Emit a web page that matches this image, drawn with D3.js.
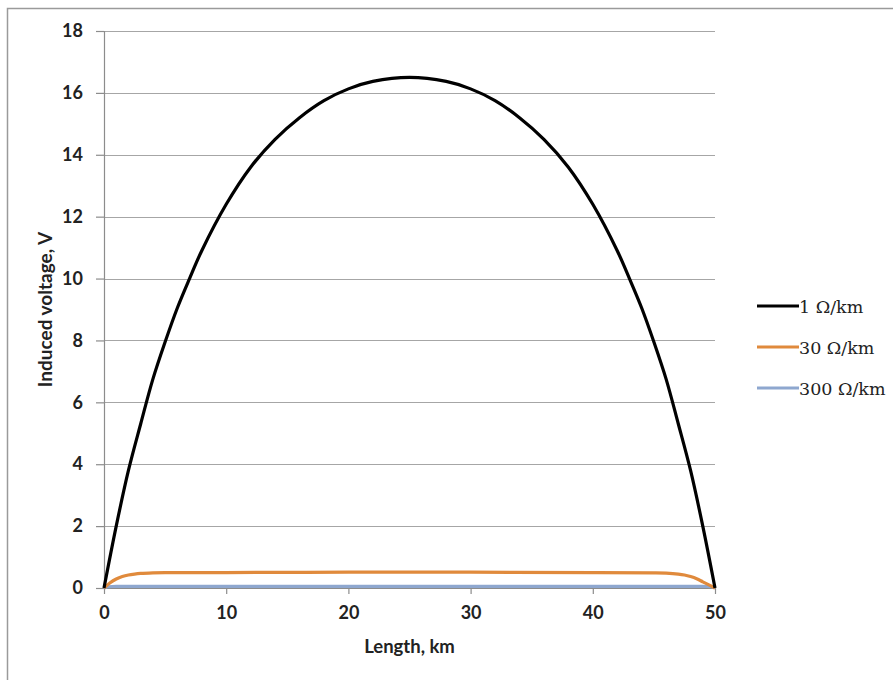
<!DOCTYPE html>
<html>
<head>
<meta charset="utf-8">
<script src="https://cdn.jsdelivr.net/npm/d3@7"></script>
<style>
  body { margin: 0; background: #fff; }
  svg { display: block; }
</style>
</head>
<body>
<div id="chart"></div>
<script>
// values
const seriesNames = ["1 \u03A9/km", "30 \u03A9/km", "300 \u03A9/km"];
const seriesColors = ["#000000", "#E08A3C", "#8EA7CF"];

const lengthKm1 = [0, 1, 2, 3, 4, 5, 6, 7, 8, 10, 12, 14, 16, 18, 20, 22, 25, 28, 30, 32, 34, 36, 38, 40, 42, 43, 44, 45, 46, 47, 48, 49, 50];
const voltage1 = [0, 2.0, 3.8, 5.3, 6.75, 7.95, 9.05, 10.0, 10.9, 12.4, 13.6, 14.5, 15.2, 15.75, 16.13, 16.37, 16.5, 16.37, 16.13, 15.75, 15.2, 14.5, 13.6, 12.4, 10.9, 10.0, 9.05, 7.95, 6.75, 5.3, 3.8, 2.0, 0];

const lengthKm30 = [0, 0.5, 1, 1.5, 2, 2.5, 3, 4, 5, 10, 20, 30, 40, 45, 46, 47, 47.5, 48, 48.5, 49, 49.5, 50];
const voltage30 = [0, 0.17, 0.29, 0.37, 0.42, 0.45, 0.47, 0.49, 0.5, 0.5, 0.51, 0.51, 0.5, 0.49, 0.48, 0.45, 0.42, 0.37, 0.3, 0.2, 0.1, 0];

const lengthKm300 = [0, 0.3, 1, 25, 49, 49.7, 50];
const voltage300 = [0, 0.04, 0.05, 0.05, 0.05, 0.04, 0];

const xTicks = [0, 10, 20, 30, 40, 50];
const yTicks = [0, 2, 4, 6, 8, 10, 12, 14, 16, 18];

const width = 893, height = 680;
const margin = { top: 31, right: 178, bottom: 92, left: 104 };

const svg = d3.select("#chart").append("svg")
    .attr("width", width)
    .attr("height", height)
    .style("font-family", "Lato, 'Open Sans', sans-serif");

// outer chart frame (only top and left visible in the picture)
svg.append("path")
    .attr("d", `M7.5,${height} V8.5 H${width}`)
    .attr("fill", "none")
    .attr("stroke", "#9a9a9a")
    .attr("stroke-width", 1.5);

const x = d3.scaleLinear().domain([0, 50]).range([margin.left, width - margin.right]);
const y = d3.scaleLinear().domain([0, 18]).range([height - margin.bottom, margin.top]);

// horizontal gridlines
svg.append("g")
    .selectAll("line")
    .data(yTicks.filter(d => d > 0))
    .join("line")
    .attr("x1", x(0))
    .attr("x2", x(50))
    .attr("y1", d => Math.round(y(d)) + 0.5)
    .attr("y2", d => Math.round(y(d)) + 0.5)
    .attr("stroke", "#a6a6a6")
    .attr("stroke-width", 1.2);

// y axis
const yAxis = svg.append("g")
    .attr("transform", `translate(${x(0)},0)`)
    .call(d3.axisLeft(y).tickValues(yTicks).tickSize(8).tickPadding(13));
yAxis.select(".domain").attr("stroke", "#8c8c8c").attr("stroke-width", 1.2);
yAxis.selectAll(".tick line").attr("stroke", "#8c8c8c").attr("stroke-width", 1.2);
yAxis.selectAll("text")
    .attr("fill", "#222")
    .style("font-family", "Lato, sans-serif")
    .style("font-size", "18px")
    .style("font-weight", "700");

// x axis
const xAxis = svg.append("g")
    .attr("transform", `translate(0,${y(0)})`)
    .call(d3.axisBottom(x).tickValues(xTicks).tickSize(6).tickPadding(12).tickSizeOuter(0));
xAxis.select(".domain").attr("stroke", "#8c8c8c").attr("stroke-width", 1.2);
xAxis.selectAll(".tick line").attr("stroke", "#8c8c8c").attr("stroke-width", 1.2);
xAxis.selectAll("text")
    .attr("fill", "#222")
    .style("font-family", "Lato, sans-serif")
    .style("font-size", "18px")
    .style("font-weight", "700");

// axis titles
svg.append("text")
    .attr("x", (x(0) + x(50)) / 2 + 0)
    .attr("y", 653)
    .attr("text-anchor", "middle")
    .attr("fill", "#222")
    .style("font-size", "18.5px")
    .style("font-weight", "700")
    .text("Length, km");

svg.append("text")
    .attr("transform", `translate(52,${(y(0) + y(18)) / 2}) rotate(-90)`)
    .attr("text-anchor", "middle")
    .attr("fill", "#222")
    .style("font-size", "19px")
    .style("font-weight", "700")
    .text("Induced voltage, V");

// series lines
const line = d3.line()
    .x(d => x(d[0]))
    .y(d => y(d[1]))
    .curve(d3.curveCatmullRom.alpha(0.5));

const series = [
    d3.zip(lengthKm300, voltage300),
    d3.zip(lengthKm30, voltage30),
    d3.zip(lengthKm1, voltage1)
];
const order = [2, 1, 0];

svg.append("g")
    .selectAll("path")
    .data(series)
    .join("path")
    .attr("d", d => line(d))
    .attr("fill", "none")
    .attr("stroke", (d, i) => seriesColors[order[i]])
    .attr("stroke-width", 3.2)
    .attr("stroke-linejoin", "round");

// legend
const legend = svg.append("g")
    .selectAll("g")
    .data(seriesNames)
    .join("g")
    .attr("transform", (d, i) => `translate(757,${306 + i * 41})`);

legend.append("line")
    .attr("x1", 0)
    .attr("x2", 42)
    .attr("stroke", (d, i) => seriesColors[i])
    .attr("stroke-width", 3.2);

legend.append("text")
    .attr("x", 42)
    .attr("y", 6.5)
    .attr("fill", "#222")
    .style("font-family", "'DejaVu Serif', serif")
    .style("font-size", "17.5px")
    .text(d => d);
</script>
</body>
</html>
